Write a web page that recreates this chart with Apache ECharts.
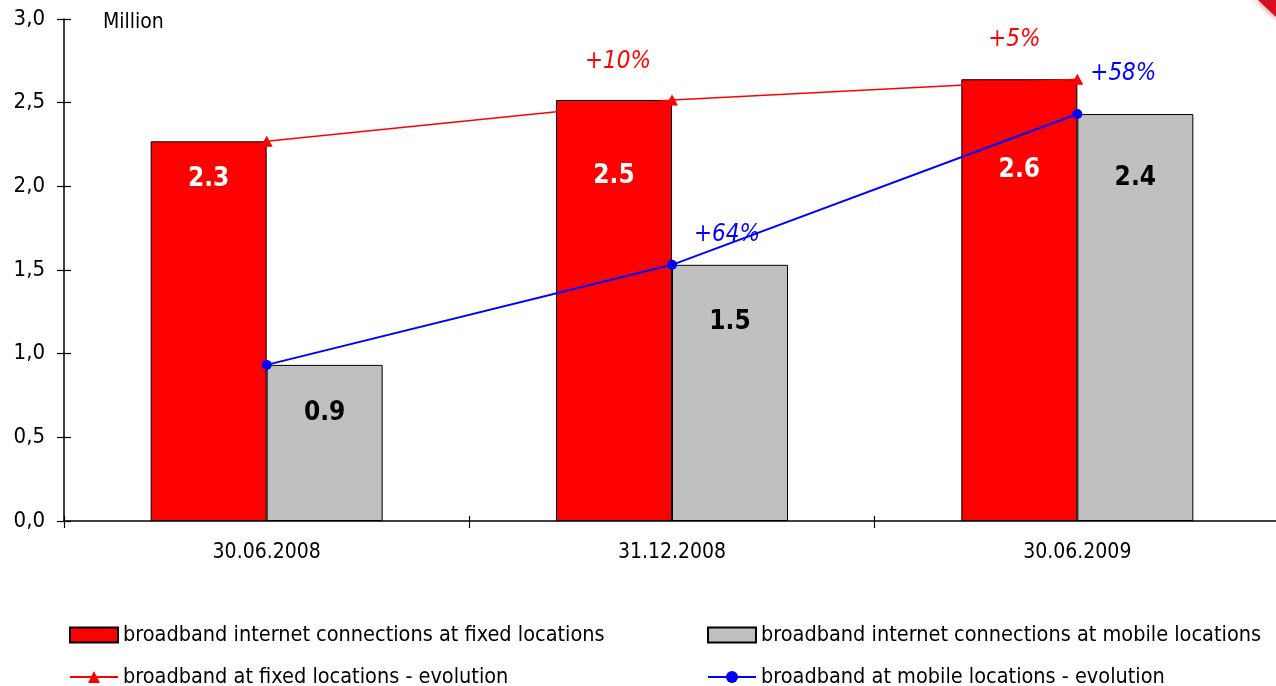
<!DOCTYPE html>
<html>
<head>
<meta charset="utf-8">
<title>Broadband connections</title>
<script src="https://cdn.jsdelivr.net/npm/echarts@6/dist/echarts.min.js"></script>
<style>
  html, body { margin: 0; padding: 0; background: #fff; }
  #chart { width: 1276px; height: 686px; }
</style>
</head>
<body>
<div id="chart"></div>
<script>
// Period end dates
const categories = ['30.06.2008', '31.12.2008', '30.06.2009'];
// Connections, million
const fixedValues = [2.269, 2.516, 2.64];
const mobileValues = [0.933, 1.531, 2.432];
// Growth versus the previous period
const fixedGrowth = ['', '+10%', '+5%'];
const mobileGrowth = ['', '+64%', '+58%'];
// Y axis ticks
const yTicks = { min: 0, max: 3, step: 0.5 };

const seriesNames = [
  'broadband internet connections at fixed locations',
  'broadband internet connections at mobile locations',
  'broadband at fixed locations - evolution',
  'broadband at mobile locations - evolution'
];

// Where the value label sits inside each bar (px down from the bar top)
const fixedLabelDrop = [38, 76, 91];
const mobileLabelDrop = [48, 57, 64];
// Offsets of the growth notes from their points
const fixedGrowthShift = [[0, 0], [-54, -38], [-63, -39]];
const mobileGrowthShift = [[0, 0], [55, -30], [46, -40]];

const FONT = "'DejaVu Sans Condensed', 'DejaVu Sans', sans-serif";
const fmt1 = v => v.toFixed(1);

function barData(values, drops) {
  return values.map((v, i) => ({
    value: v,
    label: { position: ['50%', drops[i]] }
  }));
}
function lineData(values, shifts) {
  return values.map((v, i) => ({
    value: v,
    label: { offset: shifts[i] }
  }));
}

const chart = echarts.init(document.getElementById('chart'), null, { renderer: 'canvas' });

const axisBase = {
  min: yTicks.min, max: yTicks.max, interval: yTicks.step,
  splitLine: { show: false }
};

const legendCommon = {
  orient: 'horizontal',
  itemWidth: 48,
  itemHeight: 15,
  textStyle: { fontFamily: FONT, fontSize: 21.5, color: '#000' },
  selectedMode: false
};

chart.setOption({
  animation: false,
  backgroundColor: '#fff',
  title: {
    text: 'Million',
    left: 98, top: 7,
    textStyle: { fontFamily: FONT, fontSize: 21, fontWeight: 'normal', color: '#000' }
  },
  // the plot runs a few pixels past the right edge of the page
  grid: {
    left: 64, top: 19, width: 1216, height: 502,
    containLabel: false, outerBoundsMode: 'none'
  },
  legend: [
    Object.assign({ data: [{ name: seriesNames[0], icon: 'rect' }], left: 64, top: 619 }, legendCommon),
    Object.assign({ data: [{ name: seriesNames[1], icon: 'rect' }], left: 702, top: 619 }, legendCommon),
    Object.assign({ data: [seriesNames[2]], left: 64, top: 661 }, legendCommon),
    Object.assign({ data: [seriesNames[3]], left: 702, top: 661 }, legendCommon)
  ],
  xAxis: [
    {
      type: 'category', data: categories,
      axisLine: { lineStyle: { color: '#000', width: 1.5 } },
      axisTick: { show: true, length: 7, lineStyle: { color: '#000', width: 1.2 } },
      axisLabel: { margin: 21, fontFamily: FONT, fontSize: 21, color: '#000' }
    },
    {
      type: 'category', data: categories, position: 'bottom',
      axisLine: { show: false },
      axisTick: { show: true, inside: true, length: 5, lineStyle: { color: '#000', width: 1.2 } },
      axisLabel: { show: false }
    }
  ],
  yAxis: [
    Object.assign({
      type: 'value', position: 'left',
      axisLine: { show: true, lineStyle: { color: '#000', width: 1.5 } },
      axisTick: { show: true, length: 7, lineStyle: { color: '#000', width: 1.2 } },
      axisLabel: {
        margin: 19, fontFamily: FONT, fontSize: 22, color: '#000',
        formatter: v => v.toFixed(1).replace('.', ',')
      }
    }, axisBase),
    Object.assign({
      type: 'value', position: 'left',
      axisLine: { show: false },
      axisTick: { show: true, inside: true, length: 7, lineStyle: { color: '#000', width: 1.2 } },
      axisLabel: { show: false }
    }, axisBase)
  ],
  series: [
    {
      name: seriesNames[0], type: 'bar',
      data: barData(fixedValues, fixedLabelDrop),
      barWidth: 116, barGap: '0%',
      itemStyle: { color: '#ff0000', borderColor: '#000', borderWidth: 1 },
      label: {
        show: true, align: 'center', verticalAlign: 'middle',
        formatter: p => fmt1(p.value),
        fontFamily: FONT, fontSize: 26, fontWeight: 'bold', color: '#fff'
      },
      z: 2
    },
    {
      name: seriesNames[1], type: 'bar',
      data: barData(mobileValues, mobileLabelDrop),
      barWidth: 116, barGap: '0%',
      itemStyle: { color: '#c0c0c0', borderColor: '#000', borderWidth: 1 },
      label: {
        show: true, align: 'center', verticalAlign: 'middle',
        formatter: p => fmt1(p.value),
        fontFamily: FONT, fontSize: 26, fontWeight: 'bold', color: '#000'
      },
      z: 2
    },
    {
      name: seriesNames[2], type: 'line',
      data: lineData(fixedValues, fixedGrowthShift),
      symbol: 'triangle', symbolSize: [12, 11],
      itemStyle: { color: '#ff0000' },
      lineStyle: { color: '#ff0000', width: 1.5 },
      label: {
        show: true, position: 'inside',
        formatter: p => fixedGrowth[p.dataIndex],
        fontFamily: FONT, fontSize: 24, fontStyle: 'italic', color: '#ff0000'
      },
      z: 5
    },
    {
      name: seriesNames[3], type: 'line',
      data: lineData(mobileValues, mobileGrowthShift),
      symbol: 'circle', symbolSize: 10,
      itemStyle: { color: '#0000ff' },
      lineStyle: { color: '#0000ff', width: 2 },
      label: {
        show: true, position: 'inside',
        formatter: p => mobileGrowth[p.dataIndex],
        fontFamily: FONT, fontSize: 24, fontStyle: 'italic', color: '#0000ff'
      },
      z: 5
    }
  ],
  graphic: [
    {
      type: 'polygon',
      shape: { points: [[1250, 0], [1276, 0], [1276, 22]] },
      style: { fill: 'rgba(255,200,210,0.35)' },
      silent: true
    },
    {
      type: 'polygon',
      shape: { points: [[1258, 0], [1276, 0], [1276, 17]] },
      style: { fill: '#d8101e', shadowBlur: 5, shadowColor: 'rgba(216,16,30,0.5)' },
      silent: true
    }
  ]
});
</script>
</body>
</html>
